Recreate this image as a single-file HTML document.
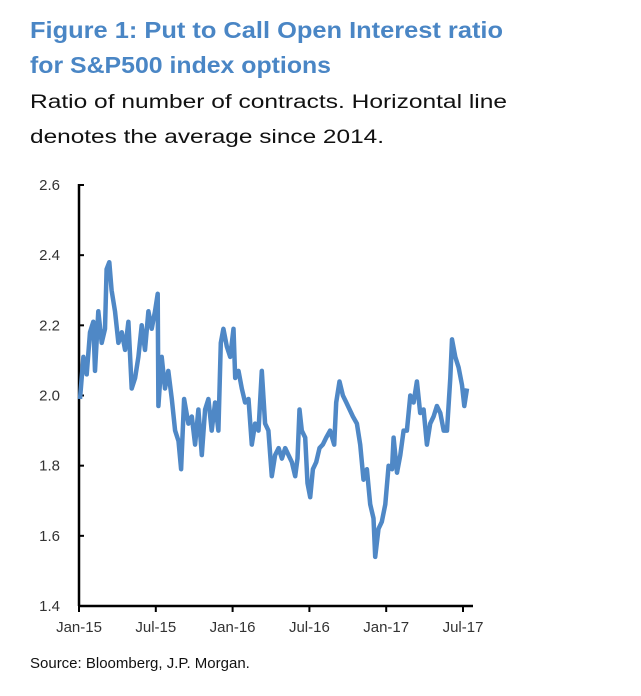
<!DOCTYPE html>
<html><head><meta charset="utf-8"><style>
html,body{margin:0;padding:0;background:#fff;}
svg{display:block;font-family:"Liberation Sans",sans-serif;}
</style></head><body>
<svg id="chart" width="641" height="696" viewBox="0 0 641 696">
<text x="30" y="38" font-size="23" font-weight="bold" fill="#4a86c5" textLength="473" lengthAdjust="spacingAndGlyphs">Figure 1: Put to Call Open Interest ratio</text>
<text x="30" y="73" font-size="23" font-weight="bold" fill="#4a86c5" textLength="301" lengthAdjust="spacingAndGlyphs">for S&amp;P500 index options</text>
<text x="30" y="108" font-size="19" fill="#111" textLength="477" lengthAdjust="spacingAndGlyphs">Ratio of number of contracts. Horizontal line</text>
<text x="30" y="143" font-size="19" fill="#111" textLength="354" lengthAdjust="spacingAndGlyphs">denotes the average since 2014.</text>
<g id="axes"></g>
<g id="series"></g>
<text x="30" y="668" font-size="15" fill="#111">Source: Bloomberg,  J.P. Morgan.</text>
</svg>
<script>
const yTicks = [1.4, 1.6, 1.8, 2.0, 2.2, 2.4, 2.6];
const yTickLabels = ["1.4", "1.6", "1.8", "2.0", "2.2", "2.4", "2.6"];
const xTicks = [0, 6, 12, 18, 24, 30];
const xTickLabels = ["Jan-15", "Jul-15", "Jan-16", "Jul-16", "Jan-17", "Jul-17"];
// months since Jan-2015
const months = [0.08,0.34,0.60,0.86,1.12,1.25,1.51,1.77,2.03,2.16,2.37,2.55,2.81,3.08,3.34,3.60,3.86,4.12,4.38,4.64,4.90,5.16,5.42,5.68,5.94,6.15,6.20,6.46,6.72,6.98,7.25,7.51,7.77,7.98,8.21,8.55,8.81,9.07,9.33,9.59,9.85,10.11,10.37,10.63,10.89,11.08,11.28,11.55,11.81,12.07,12.20,12.46,12.72,12.98,13.24,13.50,13.76,14.02,14.28,14.54,14.80,15.06,15.32,15.59,15.85,16.11,16.37,16.63,16.89,17.07,17.23,17.41,17.67,17.85,18.06,18.27,18.53,18.79,19.05,19.31,19.62,19.94,20.09,20.35,20.62,20.88,21.14,21.40,21.71,21.97,22.23,22.49,22.75,23.01,23.14,23.40,23.66,23.93,24.19,24.45,24.58,24.84,25.10,25.36,25.62,25.88,26.14,26.40,26.66,26.92,27.18,27.44,27.70,27.96,28.23,28.49,28.75,29.01,29.14,29.40,29.66,29.92,30.10,30.31];
const ratios = [1.99,2.11,2.06,2.18,2.21,2.07,2.24,2.15,2.19,2.36,2.38,2.30,2.24,2.15,2.18,2.13,2.21,2.02,2.05,2.11,2.20,2.13,2.24,2.19,2.24,2.29,1.97,2.11,2.02,2.07,1.99,1.90,1.87,1.79,1.99,1.92,1.94,1.86,1.96,1.83,1.96,1.99,1.90,1.98,1.90,2.15,2.19,2.14,2.11,2.19,2.05,2.07,2.02,1.98,1.99,1.86,1.92,1.90,2.07,1.92,1.90,1.77,1.83,1.85,1.82,1.85,1.83,1.81,1.77,1.82,1.96,1.90,1.88,1.75,1.71,1.79,1.81,1.85,1.86,1.88,1.90,1.86,1.98,2.04,2.00,1.98,1.96,1.94,1.92,1.86,1.76,1.79,1.69,1.65,1.54,1.62,1.64,1.69,1.80,1.79,1.88,1.78,1.83,1.90,1.90,2.00,1.98,2.04,1.95,1.96,1.86,1.92,1.94,1.97,1.95,1.90,1.90,2.05,2.16,2.11,2.08,2.03,1.97,2.02];

const NS = "http://www.w3.org/2000/svg";
const X0 = 79, X1 = 463, Y0 = 606, Y1 = 185;
function xScale(m){ return X0 + (m - 0) / 30 * (X1 - X0); }
function yScale(v){ return Y0 - (v - 1.4) / 1.2 * (Y0 - Y1); }
function mk(tag, attrs){ const e = document.createElementNS(NS, tag); for (const k in attrs) e.setAttribute(k, attrs[k]); return e; }
const axes = document.getElementById('axes');
const series = document.getElementById('series');

const yAxis = mk('line', {x1: X0, y1: Y1 - 1, x2: X0, y2: Y0, stroke: '#000', 'stroke-width': 2.5});


axes.appendChild(yAxis);
const xAxis = mk('line', {x1: X0, y1: Y0, x2: 473, y2: Y0, stroke: '#000', 'stroke-width': 2.5});


axes.appendChild(xAxis);

yTicks.forEach((v, i) => {
  const y = yScale(v);
  const t = mk('line', {x1: X0, y1: y, x2: X0 + 5, y2: y, stroke: '#000', 'stroke-width': 2});
  
  
  axes.appendChild(t);
  const lb = mk('text', {x: 60, y: y + 5, 'font-size': 15, fill: '#333', 'text-anchor': 'end'});
  lb.textContent = yTickLabels[i];
  
  
  axes.appendChild(lb);
});
xTicks.forEach((m, i) => {
  const x = xScale(m);
  const t = mk('line', {x1: x, y1: Y0, x2: x, y2: Y0 + 6, stroke: '#000', 'stroke-width': 2});
  
  
  axes.appendChild(t);
  const lb = mk('text', {x: x, y: Y0 + 26, 'font-size': 15, fill: '#333', 'text-anchor': 'middle'});
  lb.textContent = xTickLabels[i];
  
  
  axes.appendChild(lb);
});

let d = '';
months.forEach((m, i) => { d += (i ? 'L' : 'M') + xScale(m).toFixed(1) + ',' + yScale(ratios[i]).toFixed(1); });
const line = mk('path', {d: d, fill: 'none', stroke: '#4f88c6', 'stroke-width': 4.5, 'stroke-linejoin': 'round'});


series.appendChild(line);
</script>
</body></html>
